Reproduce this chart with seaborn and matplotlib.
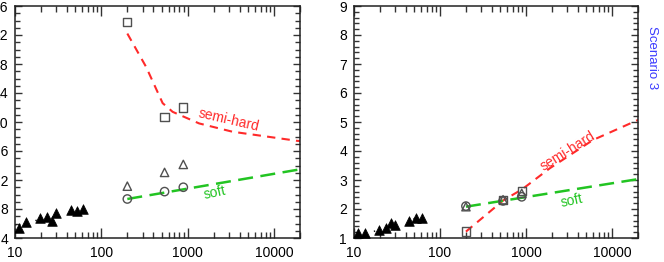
import numpy as np
import pandas as pd
import seaborn as sns
import matplotlib
matplotlib.use("Agg")
import matplotlib.pyplot as plt
from matplotlib.ticker import LogLocator, MultipleLocator, NullFormatter

# ---------------------------------------------------------
# DATA
# ---------------------------------------------------------
low_x = [11.2, 13.5, 19.5, 23.6, 27.0, 30.2, 44.0, 52.5, 61.5]
left_low_y = [5.35, 6.2, 6.75, 6.85, 6.4, 7.5, 7.85, 7.7, 8.05]
right_low_y = [1.18, 1.18, 1.28, 1.36, 1.51, 1.45, 1.59, 1.70, 1.70]

fit_x = [10, 72]
left_fit_y = [5.8, 8.0]
right_fit_y = [1.01, 1.82]

high_x = [200, 540, 890]
left_square = [33.75, 20.7, 22.0]
left_triangle = [11.15, 13.05, 14.15]
left_circle = [9.38, 10.4, 11.0]
right_square = [1.22, 2.31, 2.63]
right_triangle = [2.08, 2.32, 2.54]
right_circle = [2.10, 2.28, 2.42]

left_semi_x = [200, 330, 513, 670, 1360, 3300, 18600, 20000]
left_semi_y = [32.2, 27.6, 22.6, 21.4, 19.8, 18.66, 17.4, 17.38]
right_semi_x = [200, 545, 900, 1900, 6000, 20000]
right_semi_y = [1.22, 2.3, 2.68, 3.41, 4.38, 5.07]

soft_x = [200, 20000]
left_soft_y = [9.38, 13.47]
right_soft_y = [2.08, 3.03]

x_ticks = [10, 100, 1000, 10000]

RED = "#ff2a2a"
GREEN = "#22c422"
EDGE = "#505050"

sns.set_theme(style="ticks")
plt.rcParams["font.family"] = ["Liberation Sans", "DejaVu Sans"]
plt.rcParams["font.size"] = 10

fig = plt.figure(figsize=(6.64, 2.62), dpi=100)
ax_l = fig.add_axes([15 / 664, 24 / 262, 285 / 664, 232 / 262])
ax_r = fig.add_axes([354 / 664, 24 / 262, 284 / 664, 232 / 262])


def draw_panel(ax, low_y, fit_y, sq, tri, circ, semi_x, semi_y, soft_y, ylim, ymaj, ymin,
               semi_pos, semi_rot, soft_pos, soft_rot):
    ax.set_xscale("log")
    sns.lineplot(x=fit_x, y=fit_y, ax=ax, color="black", lw=1.0,
                 linestyle=(0, (1, 14)), legend=False)
    sns.lineplot(x=semi_x, y=semi_y, ax=ax, color=RED, lw=1.5,
                 linestyle=(0, (4, 3)), legend=False, sort=False)
    sns.lineplot(x=soft_x, y=soft_y, ax=ax, color=GREEN, lw=1.8,
                 linestyle=(0, (6, 3)), legend=False)
    sns.scatterplot(x=low_x, y=low_y, ax=ax, marker="^", color="black", s=48,
                    edgecolor="black", linewidth=0.5, zorder=4)
    sns.scatterplot(x=high_x, y=sq, ax=ax, marker="s", facecolor="none",
                    edgecolor=EDGE, s=36, linewidth=1.0, zorder=4)
    sns.scatterplot(x=high_x, y=tri, ax=ax, marker="^", facecolor="none",
                    edgecolor=EDGE, s=36, linewidth=1.0, zorder=4)
    sns.scatterplot(x=high_x, y=circ, ax=ax, marker="o", facecolor="none",
                    edgecolor=EDGE, s=36, linewidth=1.0, zorder=4)
    ax.text(semi_pos[0], semi_pos[1], "semi-hard", color=RED, fontsize=10,
            rotation=semi_rot, ha="center", va="center")
    ax.text(soft_pos[0], soft_pos[1], "soft", color=GREEN, fontsize=10,
            rotation=soft_rot, ha="center", va="center")

    ax.set_xlim(10, 20000)
    ax.set_ylim(*ylim)
    ax.set_xticks(x_ticks)
    ax.set_xticklabels([str(t) for t in x_ticks])
    ax.xaxis.set_minor_locator(LogLocator(base=10, subs=np.arange(2, 10)))
    ax.xaxis.set_minor_formatter(NullFormatter())
    ax.yaxis.set_major_locator(MultipleLocator(ymaj))
    ax.yaxis.set_minor_locator(MultipleLocator(ymin))
    ax.tick_params(which="both", direction="in", top=True, right=True,
                   colors="#333333", labelcolor="black", labelsize=10)
    ax.tick_params(axis="x", which="major", length=7, width=1.0, pad=6)
    ax.tick_params(axis="x", which="minor", length=4.5, width=1.0)
    ax.tick_params(axis="y", which="major", length=5, width=1.0, pad=5)
    ax.tick_params(axis="y", which="minor", length=3.5, width=1.0)
    for sp in ax.spines.values():
        sp.set_linewidth(1.1)
        sp.set_color("#222222")
    ax.set_xlabel("")
    ax.set_ylabel("")


draw_panel(ax_l, left_low_y, left_fit_y, left_square, left_triangle, left_circle,
           left_semi_x, left_semi_y, left_soft_y, (4, 36), 4, 1,
           (2970, 20.3), -13, (2080, 10.2), 12)
draw_panel(ax_r, right_low_y, right_fit_y, right_square, right_triangle, right_circle,
           right_semi_x, right_semi_y, right_soft_y, (1, 9), 1, 0.2,
           (3020, 3.98), 32, (3450, 2.29), 12)

fig.text(652 / 664, 1 - 58 / 262, "Scenario 3", color="#3a3aff", fontsize=9.5,
         rotation=-90, ha="center", va="center")

plt.savefig("out.png", dpi=100)
plt.close()
